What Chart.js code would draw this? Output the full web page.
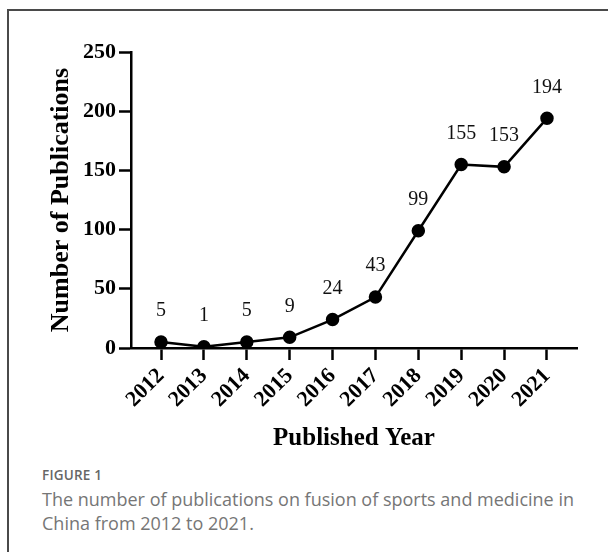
<!DOCTYPE html>
<html>
<head>
<meta charset="utf-8">
<script src="https://cdn.jsdelivr.net/npm/chart.js@4.4.1/dist/chart.umd.min.js"></script>
<style>
  html, body { margin: 0; background: #fff; overflow: hidden; }
  #wrap { position: relative; width: 608px; height: 552px; overflow: hidden; }
  #frame { position: absolute; left: 7px; top: 9px; width: 640px; height: 640px;
           border-top: 2px solid #4a4a4a; border-left: 2px solid #4a4a4a; }
  #chartBox { position: absolute; left: 0; top: 0; width: 608px; height: 460px; }
  #caption { position: absolute; left: 42px; top: 466px; width: 548px; font-family: "Open Sans", sans-serif; color: #767676; }
  #caption .fig { font-size: 13.5px; font-weight: 600; color: #666; letter-spacing: 0.2px; }
  #caption .txt { font-size: 18px; line-height: 24px; margin-top: 3px; }
</style>
</head>
<body>
<div id="wrap">
  <div id="frame"></div>
  <div id="chartBox"><canvas id="pubChart" width="608" height="460"></canvas></div>
  <div id="caption">
    <div class="fig">FIGURE 1</div>
    <div class="txt">The number of publications on fusion of sports and medicine in China from 2012 to 2021.</div>
  </div>
</div>
<script>
// Data
const years = [2012, 2013, 2014, 2015, 2016, 2017, 2018, 2019, 2020, 2021];
const publications = [5, 1, 5, 9, 24, 43, 99, 155, 153, 194];
const yTicks = [0, 50, 100, 150, 200, 250];

const serif = '"Liberation Serif", "Times New Roman", serif';

// value labels above each point
const pointLabels = {
    id: 'pointLabels',
    afterDatasetsDraw(chart) {
        const ctx = chart.ctx;
        const meta = chart.getDatasetMeta(0);
        ctx.save();
        ctx.font = '20px ' + serif;
        ctx.fillStyle = '#111';
        ctx.textAlign = 'center';
        ctx.textBaseline = 'middle';
        meta.data.forEach((pt, i) => {
            ctx.fillText(String(publications[i]), pt.x, pt.y - 31);
        });
        ctx.restore();
    }
};

const data = {
    datasets: [{
        data: years.map((y, i) => ({ x: y, y: publications[i] })),
        borderColor: '#000',
        backgroundColor: '#000',
        borderWidth: 2.5,
        pointRadius: 5.5,
        pointHoverRadius: 5.5,
        tension: 0
    }]
};

const config = {
    type: 'line',
    data: data,
    options: {
        responsive: false,
        animation: false,
        layout: { padding: { left: 8, top: 52, right: 31, bottom: 6 } },
        plugins: { legend: { display: false }, tooltip: { enabled: false } },
        scales: {
            x: {
                type: 'linear',
                min: 2011.3,
                max: 2021.7,
                afterBuildTicks: scale => { scale.ticks = years.map(v => ({ value: v })); },
                afterFit: scale => { scale.height = 106; },
                ticks: {
                    autoSkip: false,
                    minRotation: 45,
                    maxRotation: 45,
                    color: '#000',
                    padding: 3,
                    font: { family: serif, size: 22, weight: 'bold' },
                    callback: v => String(v)
                },
                grid: { drawOnChartArea: false, drawTicks: true, tickLength: 12, tickWidth: 2.5, tickColor: '#000' },
                border: { display: true, color: '#000', width: 2.5 },
                title: {
                    display: true,
                    text: 'Published Year',
                    color: '#000',
                    padding: { top: 4, bottom: 0 },
                    font: { family: serif, size: 25, weight: 'bold' }
                }
            },
            y: {
                min: 0,
                max: 250,
                afterBuildTicks: scale => { scale.ticks = yTicks.map(v => ({ value: v })); },
                afterFit: scale => { scale.width = 123; },
                ticks: {
                    color: '#000',
                    padding: 3,
                    font: { family: serif, size: 22, weight: 'bold' }
                },
                grid: { drawOnChartArea: false, drawTicks: true, tickLength: 12, tickWidth: 2.5, tickColor: '#000' },
                border: { display: true, color: '#000', width: 2.5 },
                title: {
                    display: true,
                    text: 'Number of Publications',
                    color: '#000',
                    padding: { top: 38, bottom: 0 },
                    font: { family: serif, size: 26, weight: 'bold' }
                }
            }
        }
    },
    plugins: [pointLabels]
};

const pubChart = new Chart(document.getElementById('pubChart'), config);
</script>
</body>
</html>
